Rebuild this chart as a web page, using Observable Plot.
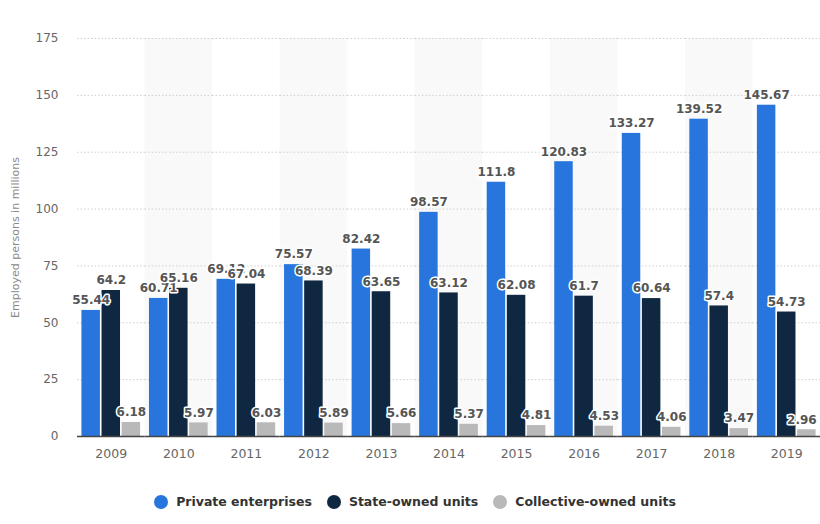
<!DOCTYPE html>
<html>
<head>
<meta charset="utf-8">
<script src="https://cdn.jsdelivr.net/npm/d3@7"></script>
<script src="https://cdn.jsdelivr.net/npm/@observablehq/plot@0.6"></script>
<style>
  body { margin: 0; background: #fff; font-family: "DejaVu Sans", sans-serif; }
  #chart { width: 820px; }
  g[aria-label="y-axis label"] text { font-size: 11px; fill: #8a8a8a; font-weight: normal; }
  .legend { display: flex; justify-content: center; align-items: center; gap: 15px; margin-top: 24px; padding-left: 10px;
            font-family: "DejaVu Sans", sans-serif; font-weight: bold; font-size: 12.5px; color: #333; }
  .legend span.item { display: flex; align-items: center; gap: 8px; }
  .legend span.dot { width: 14px; height: 14px; border-radius: 50%; display: inline-block; }
</style>
</head>
<body>
<div id="chart"></div>
<script>
const years = [2009, 2010, 2011, 2012, 2013, 2014, 2015, 2016, 2017, 2018, 2019];
const privateEnterprises = [55.44, 60.71, 69.12, 75.57, 82.42, 98.57, 111.8, 120.83, 133.27, 139.52, 145.67];
const stateOwned = [64.2, 65.16, 67.04, 68.39, 63.65, 63.12, 62.08, 61.7, 60.64, 57.4, 54.73];
const collectiveOwned = [6.18, 5.97, 6.03, 5.89, 5.66, 5.37, 4.81, 4.53, 4.06, 3.47, 2.96];
const seriesNames = ["Private enterprises", "State-owned units", "Collective-owned units"];
const seriesColors = ["#2876dd", "#0f2740", "#b9b9b9"];
const yTicks = [0, 25, 50, 75, 100, 125, 150, 175];

const seriesValues = [privateEnterprises, stateOwned, collectiveOwned];
const data = [];
seriesNames.forEach((s, k) => {
  years.forEach((y, i) => data.push({year: y, series: s, value: seriesValues[k][i]}));
});
const shaded = years.filter((d, i) => i % 2 === 1);
const lastYear = years[years.length - 1];
const lastSeries = seriesNames[seriesNames.length - 1];
const isEdge = d => d.year === lastYear && d.series === lastSeries;

const textOpts = {fx: "year", x: "series", y: "value", text: d => String(d.value), dy: -10,
  fontWeight: "bold", fontSize: 12, fill: "#555", stroke: "white", strokeWidth: 3, paintOrder: "stroke"};

const chart = Plot.plot({
  width: 820,
  height: 470,
  marginLeft: 77,
  marginRight: 0,
  marginTop: 38,
  marginBottom: 34,
  style: {fontFamily: "DejaVu Sans, sans-serif", background: "#fff"},
  fx: {domain: years, padding: 0, round: false, label: null},
  x: {domain: seriesNames, axis: null, round: false, paddingInner: 0.08, paddingOuter: 0.22},
  y: {domain: [0, 175], label: null},
  color: {domain: seriesNames, range: seriesColors},
  marks: [
    Plot.barY(shaded, {fx: d => d, y1: 0, y2: 175, fill: "#f9f9f9"}),
    Plot.gridY(yTicks.slice(1), {stroke: "#cfcfcf", strokeOpacity: 1, strokeDasharray: "1.5,2"}),
    Plot.barY(data, {fx: "year", x: "series", y: "value", fill: "series"}),
    Plot.ruleY([0], {stroke: "#444", strokeWidth: 1.5}),
    Plot.axisY({ticks: yTicks, tickSize: 0, tickPadding: 19, fontSize: 12, fill: "#666",
      label: "Employed persons in millions", labelAnchor: "center", labelArrow: "none", labelOffset: 66}),
    Plot.axisFx({anchor: "bottom", tickSize: 0, tickPadding: 13, fontSize: 12.5, fill: "#666",
      tickFormat: d => String(d), label: null}),
    Plot.text(data, {...textOpts, filter: d => !isEdge(d)}),
    Plot.text(data, {...textOpts, filter: isEdge, dx: -5})
  ]
});
document.getElementById("chart").append(chart);

const legend = document.createElement("div");
legend.className = "legend";
seriesNames.forEach((s, k) => {
  const item = document.createElement("span");
  item.className = "item";
  const dot = document.createElement("span");
  dot.className = "dot";
  dot.style.background = seriesColors[k];
  item.append(dot, document.createTextNode(s));
  legend.append(item);
});
document.getElementById("chart").append(legend);
</script>
</body>
</html>
